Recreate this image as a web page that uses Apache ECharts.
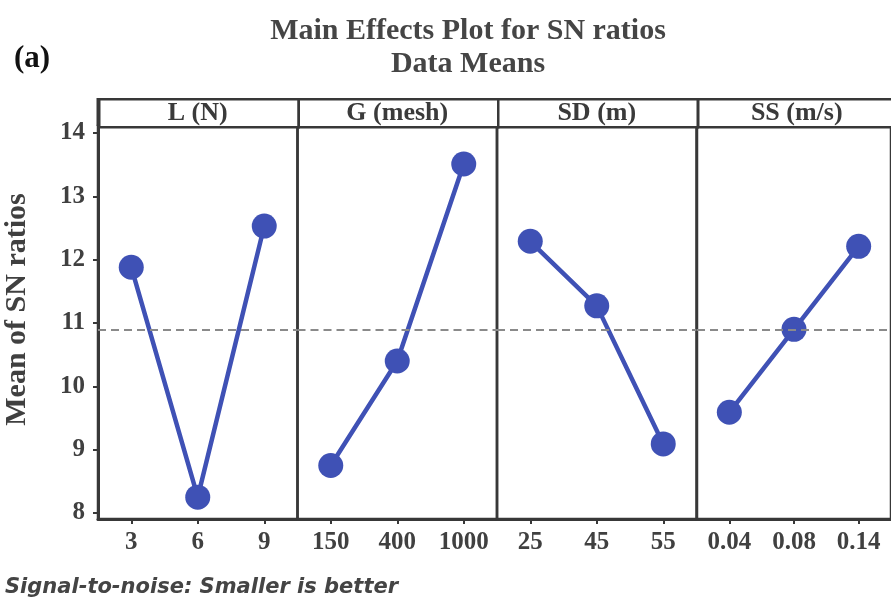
<!DOCTYPE html>
<html>
<head>
<meta charset="utf-8">
<script src="https://cdn.jsdelivr.net/npm/echarts@6/dist/echarts.min.js"></script>
<style>html,body{margin:0;padding:0;background:#fff}#c{width:891px;height:604px}</style>
</head>
<body>
<div id="c"></div>
<script>
// ---- data ----
const panelNames = ['L (N)', 'G (mesh)', 'SD (m)', 'SS (m/s)'];
const lLevels = ['3', '6', '9'];
const lMeans = [11.88, 8.25, 12.53];
const gLevels = ['150', '400', '1000'];
const gMeans = [8.75, 10.40, 13.51];
const sdLevels = ['25', '45', '55'];
const sdMeans = [12.29, 11.27, 9.09];
const ssLevels = ['0.04', '0.08', '0.14'];
const ssMeans = [9.59, 10.90, 12.21];
const overallMean = 10.89;
const yTickValues = [8, 9, 10, 11, 12, 13, 14];

const levels = [lLevels, gLevels, sdLevels, ssLevels];
const means = [lMeans, gMeans, sdMeans, ssMeans];

// ---- layout ----
const lefts = [98, 297.5, 497, 697];
const panelW = 199.5;
const plotTop = 126, plotBottom = 519, stripTop = 98;
const ink = '#383838';
const serif = '"Liberation Serif", "Times New Roman", serif';
const blue = '#3f51b5';

const grids = [], xAxes = [], yAxes = [], series = [], graphics = [];
for (let i = 0; i < 4; i++) {
  grids.push({left: lefts[i], top: plotTop, width: panelW, height: plotBottom - plotTop,
    show: true, borderColor: ink, borderWidth: 2.5, backgroundColor: 'transparent', containLabel: false});
  xAxes.push({type: 'category', gridIndex: i, data: levels[i], boundaryGap: true,
    axisLine: {show: true, lineStyle: {color: ink, width: 3}},
    axisTick: {show: true, alignWithLabel: true, length: 5, lineStyle: {color: ink, width: 2}},
    axisLabel: {color: '#404040', fontFamily: serif, fontWeight: 'bold', fontSize: 25, margin: 11},
    splitLine: {show: false}});
  yAxes.push({type: 'value', gridIndex: i, min: 7.905, max: 14.11,
    name: i === 0 ? 'Mean of SN ratios' : '', nameLocation: 'middle', nameRotate: 90, nameGap: 66,
    nameTextStyle: {color: '#404040', fontFamily: serif, fontWeight: 'bold', fontSize: 30, padding: [0, 0, 0, 26]},
    axisLine: {show: i === 0, lineStyle: {color: ink, width: 3}},
    axisTick: {show: i === 0, length: 5, lineStyle: {color: ink, width: 2}, customValues: yTickValues},
    axisLabel: {show: i === 0, color: '#404040', fontFamily: serif, fontWeight: 'bold', fontSize: 25, margin: 13, customValues: yTickValues},
    splitLine: {show: false}});
  series.push({type: 'line', xAxisIndex: i, yAxisIndex: i, data: means[i],
    symbol: 'circle', symbolSize: 25, color: blue,
    lineStyle: {color: blue, width: 4.5}, itemStyle: {color: blue},
    markLine: {silent: true, symbol: 'none', label: {show: false},
      lineStyle: {color: '#8a8a8a', type: [8, 5], width: 2},
      data: [{yAxis: overallMean}]},
    z: 3});
  graphics.push({type: 'rect', left: lefts[i], top: stripTop,
    shape: {width: panelW, height: plotTop - stripTop},
    style: {fill: '#fff', stroke: ink, lineWidth: 2.5}});
  graphics.push({type: 'text', x: lefts[i] + panelW / 2, y: (stripTop + plotTop) / 2 + 1,
    style: {text: panelNames[i], fill: '#3a3a3a', font: 'bold 26px ' + serif, align: 'center', verticalAlign: 'middle'}});
}
// left axis extension through the strip
graphics.push({type: 'line', shape: {x1: 98, y1: stripTop, x2: 98, y2: plotTop}, style: {stroke: ink, lineWidth: 3}});

const chart = echarts.init(document.getElementById('c'), null, {renderer: 'canvas'});
chart.setOption({
  animation: false,
  backgroundColor: '#fff',
  title: [
    {text: 'Main Effects Plot for SN ratios', left: 463, top: 11, textAlign: 'center',
      textStyle: {fontFamily: serif, fontWeight: 'bold', fontSize: 30, color: '#454545'}},
    {text: 'Data Means', left: 463, top: 44, textAlign: 'center',
      textStyle: {fontFamily: serif, fontWeight: 'bold', fontSize: 30, color: '#454545'}},
    {text: '(a)', left: 9, top: 38,
      textStyle: {fontFamily: serif, fontWeight: 'bold', fontSize: 31, color: '#111'}},
    {text: 'Signal-to-noise: Smaller is better', left: 0, top: 572,
      textStyle: {fontFamily: '"DejaVu Sans", sans-serif', fontWeight: 'bold', fontStyle: 'italic', fontSize: 21, color: '#444'}}
  ],
  grid: grids,
  xAxis: xAxes,
  yAxis: yAxes,
  series: series,
  graphic: graphics
});
</script>
</body>
</html>
